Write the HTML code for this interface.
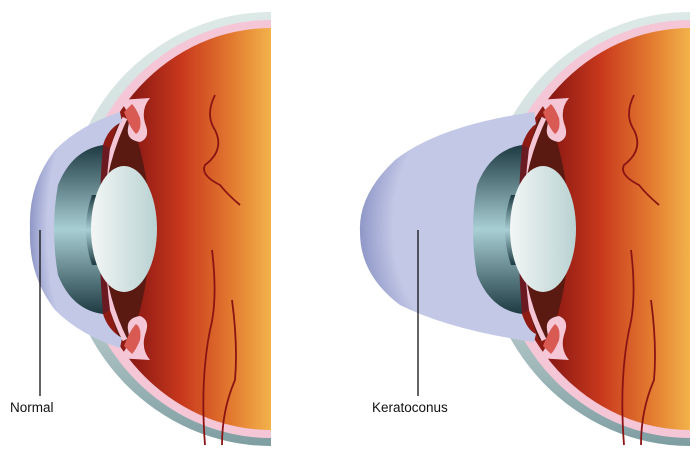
<!DOCTYPE html>
<html><head><meta charset="utf-8"><style>
html,body{margin:0;padding:0;background:#fff;width:696px;height:462px;overflow:hidden}
svg{display:block}
text{font-family:"Liberation Sans",sans-serif;font-size:13.5px;fill:#111}
</style></head><body>
<svg width="696" height="462" viewBox="0 0 696 462" xmlns="http://www.w3.org/2000/svg">
<defs>
<linearGradient id="org" gradientUnits="userSpaceOnUse" x1="135" y1="0" x2="271" y2="0">
<stop offset="0" stop-color="#8e1a14"/><stop offset="0.35" stop-color="#c9391d"/><stop offset="0.7" stop-color="#e2782f"/><stop offset="1" stop-color="#f2b24a"/></linearGradient>
<linearGradient id="scl" x1="0" y1="0" x2="0" y2="1">
<stop offset="0" stop-color="#dde9e7"/><stop offset="0.6" stop-color="#c8d8d8"/><stop offset="1" stop-color="#7f9ea2"/></linearGradient>
<linearGradient id="iris" x1="0" y1="0" x2="0" y2="1">
<stop offset="0" stop-color="#1e3a42"/><stop offset="0.5" stop-color="#a8cfd4"/><stop offset="1" stop-color="#1e3a42"/></linearGradient>
<linearGradient id="lens" x1="0" y1="0" x2="1" y2="0">
<stop offset="0" stop-color="#f2f6f5"/><stop offset="1" stop-color="#b9d2d2"/></linearGradient>
<radialGradient id="corn" cx="0.75" cy="0.5" r="0.75">
<stop offset="0.75" stop-color="#c3c8e6"/><stop offset="1" stop-color="#8f97c7"/></radialGradient>
<clipPath id="half"><rect x="0" y="0" width="271" height="462"/></clipPath>
<g id="eye">
<ellipse cx="271" cy="229" rx="208" ry="217" fill="url(#scl)"/>
<ellipse cx="271" cy="229" rx="196" ry="209" fill="#f4c6d6"/>
<ellipse cx="271" cy="229" rx="186" ry="201" fill="url(#org)"/>
<path d="M130 118 Q150 170 150 229 Q150 290 130 340 L120 340 Q100 290 100 229 Q100 170 120 118Z" fill="#5a1a12"/>
<path d="M125 118 Q100 170 100 229 Q100 290 125 340" fill="none" stroke="#f4c6d6" stroke-width="5"/>
<path d="M118 100 Q132 112 128 128 Q126 140 140 142 Q150 138 146 126 Q140 110 150 98" fill="#f4c6d6"/>
<path d="M124 112 Q130 128 136 134 Q142 130 140 118 Q136 108 132 104Z" fill="#d85a52"/>
<path d="M118 358 Q132 346 128 330 Q126 318 140 316 Q150 320 146 332 Q140 348 150 360" fill="#f4c6d6"/>
<path d="M124 346 Q130 330 136 324 Q142 328 140 340 Q136 350 132 354Z" fill="#d85a52"/>
<g fill="none" stroke="#8a1414" stroke-width="1.8">
<path d="M215 95 Q205 115 215 130 Q225 150 205 165 Q200 175 220 185 Q228 195 240 205"/>
<path d="M205 445 Q200 380 210 330 Q218 300 212 250"/>
<path d="M222 445 Q222 410 235 380 Q238 345 232 300"/>
</g>
</g>
<g id="irislens">
<path d="M103 145 Q72 150 58 185 Q50 229 58 275 Q72 310 103 314 Z" fill="url(#iris)"/>
<path d="M103 145 L110 148 Q100 229 110 310 L103 314 Q96 229 103 145Z" fill="#6a1a20"/>
<path d="M92 195 Q80 229 92 265 L100 265 L100 195Z" fill="url(#iris)"/>
<ellipse cx="124" cy="229" rx="33" ry="63" fill="url(#lens)"/>
</g>
</defs>
<!-- left eye -->
<g clip-path="url(#half)">
<use href="#eye"/>
<path d="M120 112 Q80 125 55 150 Q28 185 30 229 Q28 275 55 310 Q80 335 120 348 L122 338 Q108 330 103 314 L80 229 L103 145 Q108 128 122 122Z" fill="url(#corn)"/>
<use href="#irislens"/>
</g>
<!-- right eye -->
<g transform="translate(419,0)">
<g clip-path="url(#half)">
<use href="#eye"/>
</g>
</g>
<path d="M534 112 Q440 125 395 160 Q358 195 360 232 Q360 275 400 305 Q450 330 534 342 L536 334 Q527 330 522 314 L500 229 L522 145 Q527 130 536 124Z" fill="url(#corn)"/>
<g transform="translate(419,0)"><use href="#irislens"/></g>
<line x1="40" y1="230" x2="40" y2="396" stroke="#111" stroke-width="1.3"/>
<line x1="418" y1="230" x2="418" y2="396" stroke="#111" stroke-width="1.3"/>
<text x="10" y="412">Normal</text>
<text x="372" y="412">Keratoconus</text>
</svg>
</body></html>
